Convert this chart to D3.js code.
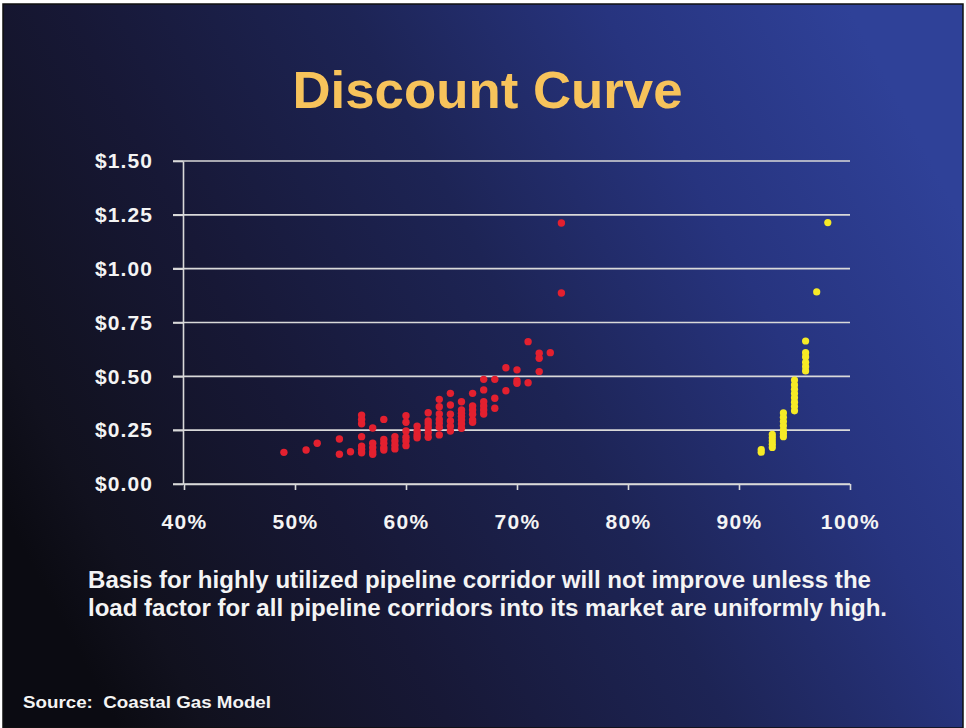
<!DOCTYPE html>
<html>
<head>
<meta charset="utf-8">
<script src="https://cdn.jsdelivr.net/npm/d3@7"></script>
<style>
  html, body { margin: 0; padding: 0; background: #ffffff; }
  svg { display: block; }
  text { font-family: "Liberation Sans", Arial, Helvetica, sans-serif; font-weight: bold; }
</style>
</head>
<body>
<svg id="chart" width="966" height="728"></svg>
<script>
// ---- Data ----
const titleText = "Discount Curve";
const subtitleLines = [
  "Basis for highly utilized pipeline corridor will not improve unless the",
  "load factor for all pipeline corridors into its market are uniformly high."
];
const sourceText = "Source:  Coastal Gas Model";

const xTicks = [40, 50, 60, 70, 80, 90, 100];          // load factor, %
const yTicks = [0, 0.25, 0.5, 0.75, 1.0, 1.25, 1.5];     // basis, $

// Red series: load factor (%) and basis ($)
const redLoad = [
  49, 51, 52, 54, 54, 55,
  56, 56, 56, 56, 56, 56, 56,
  57, 57, 57, 57, 57,
  58, 58, 58, 58, 58,
  59, 59, 59, 59,
  60, 60, 60, 60, 60, 60,
  61, 61, 61, 61,
  62, 62, 62, 62, 62, 62,
  63, 63, 63, 63, 63, 63, 63,
  64, 64, 64, 64, 64, 64,
  65, 65, 65, 65, 65, 65, 65,
  66, 66, 66, 66, 66, 66,
  67, 67, 67, 67, 67, 67,
  68, 68, 68,
  69, 69,
  70, 70, 70,
  71, 71,
  72, 72, 72,
  73,
  74, 74
];
const redBasis = [
  0.147, 0.158, 0.189, 0.209, 0.138, 0.150,
  0.32, 0.30, 0.28, 0.22, 0.176, 0.161, 0.145,
  0.26, 0.189, 0.169, 0.150, 0.138,
  0.30, 0.207, 0.189, 0.169, 0.158,
  0.22, 0.20, 0.18, 0.163,
  0.317, 0.287, 0.246, 0.217, 0.20, 0.178,
  0.269, 0.246, 0.228, 0.215,
  0.331, 0.293, 0.279, 0.262, 0.238, 0.217,
  0.393, 0.359, 0.325, 0.30, 0.282, 0.263, 0.228,
  0.421, 0.367, 0.324, 0.293, 0.269, 0.246,
  0.382, 0.344, 0.328, 0.313, 0.297, 0.279, 0.259,
  0.421, 0.362, 0.344, 0.324, 0.297, 0.287,
  0.486, 0.437, 0.382, 0.362, 0.344, 0.325,
  0.486, 0.398, 0.352,
  0.54, 0.433,
  0.53, 0.48, 0.468,
  0.661, 0.47,
  0.607, 0.584, 0.522,
  0.61,
  1.212, 0.887
];

// Yellow series
const yellowLoad = [
  92, 92,
  93, 93, 93, 93, 93,
  94, 94, 94, 94, 94, 94, 94,
  95, 95, 95, 95, 95, 95, 95, 95,
  96, 96, 96, 96, 96, 96,
  97,
  98
];
const yellowBasis = [
  0.16, 0.148,
  0.23, 0.215, 0.20, 0.185, 0.17,
  0.33, 0.31, 0.29, 0.27, 0.25, 0.235, 0.22,
  0.483, 0.46, 0.44, 0.42, 0.40, 0.38, 0.36, 0.34,
  0.664, 0.61, 0.59, 0.565, 0.545, 0.525,
  0.892,
  1.214
];

// ---- Drawing ----
const svg = d3.select("#chart");
const W = 966, H = 728;
const margin = { left: 183, right: 116, top: 161, bottom: 244 };

const defs = svg.append("defs");
const bg = defs.append("linearGradient").attr("id", "bg")
  .attr("x1", "0").attr("y1", "0.7").attr("x2", "1").attr("y2", "0.3");
[["0", "#0b0b12"], ["0.08", "#11111e"], ["0.3", "#171836"], ["0.55", "#1d2455"],
 ["0.78", "#27347f"], ["1", "#2f4198"]].forEach(([o, c]) =>
  bg.append("stop").attr("offset", o).attr("stop-color", c));

// slide background with thin dark edge
svg.append("rect").attr("x", 3).attr("y", 4).attr("width", W - 6).attr("height", H - 4)
  .attr("fill", "url(#bg)").attr("stroke", "#101010").attr("stroke-width", 1.5);

const x = d3.scaleLinear().domain([40, 100]).range([margin.left + 1, W - margin.right]);
const y = d3.scaleLinear().domain([0, 1.5]).range([H - margin.bottom, margin.top]);

const gridColor = "#d9d9d9";

// gridlines
svg.append("g").selectAll("line").data(yTicks).join("line")
  .attr("x1", margin.left - 10).attr("x2", x(100))
  .attr("y1", d => y(d)).attr("y2", d => y(d))
  .attr("stroke", gridColor).attr("stroke-width", 1.6);

// y axis
const yAxis = svg.append("g").attr("transform", `translate(${margin.left},0)`)
  .call(d3.axisLeft(y).tickValues(yTicks).tickSize(10).tickSizeOuter(0).tickPadding(20)
    .tickFormat(d => "$" + d3.format(".2f")(d)));
yAxis.select(".domain").attr("stroke", gridColor).attr("stroke-width", 1.6);
yAxis.selectAll(".tick line").attr("stroke", gridColor).attr("stroke-width", 1.6);
yAxis.selectAll(".tick text").attr("fill", "#f4f4f4").attr("font-size", 21)
  .attr("letter-spacing", "1.1px")
  .style("font-family", "'Liberation Sans', Arial, sans-serif").style("font-weight", "bold");

// x axis
const xAxis = svg.append("g").attr("transform", `translate(0,${y(0)})`)
  .call(d3.axisBottom(x).tickValues(xTicks).tickSize(6).tickSizeOuter(0).tickPadding(24)
    .tickFormat(d => d + "%"));
xAxis.select(".domain").attr("stroke", gridColor).attr("stroke-width", 1.6);
xAxis.selectAll(".tick line").attr("stroke", gridColor).attr("stroke-width", 1.6);
xAxis.selectAll(".tick text").attr("fill", "#f4f4f4").attr("font-size", 21)
  .attr("letter-spacing", "1.4px")
  .style("font-family", "'Liberation Sans', Arial, sans-serif").style("font-weight", "bold");

// points
const redPts = redLoad.map((v, i) => [v, redBasis[i]]);
const yellowPts = yellowLoad.map((v, i) => [v, yellowBasis[i]]);

svg.append("g").selectAll("circle").data(redPts).join("circle")
  .attr("cx", d => x(d[0])).attr("cy", d => y(d[1])).attr("r", 3.7)
  .attr("fill", "#e3202f");

svg.append("g").selectAll("circle").data(yellowPts).join("circle")
  .attr("cx", d => x(d[0])).attr("cy", d => y(d[1])).attr("r", 3.6)
  .attr("fill", "#f6ea26");

// title
svg.append("text").attr("x", 487.5).attr("y", 108)
  .attr("text-anchor", "middle").attr("font-size", 52)
  .attr("textLength", 390).attr("lengthAdjust", "spacingAndGlyphs")
  .attr("fill", "#f7c35b").text(titleText);

// subtitle
svg.append("g").selectAll("text").data(subtitleLines).join("text")
  .attr("x", 88).attr("y", (d, i) => 588 + i * 28)
  .attr("font-size", 23).attr("fill", "#f4f4f4")
  .attr("textLength", (d, i) => i === 0 ? 783 : 799)
  .attr("lengthAdjust", "spacingAndGlyphs")
  .text(d => d);

// source
svg.append("text").attr("x", 23).attr("y", 708)
  .attr("font-size", 17).attr("fill", "#f4f4f4")
  .style("white-space", "pre")
  .attr("textLength", 248).attr("lengthAdjust", "spacingAndGlyphs")
  .text(sourceText);
</script>
</body>
</html>
